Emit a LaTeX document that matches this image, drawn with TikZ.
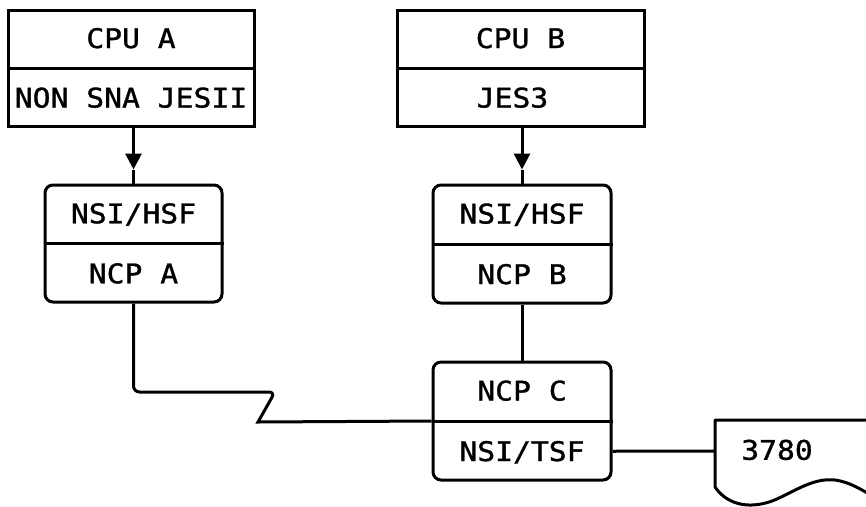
\documentclass[tikz,border=0pt]{standalone}
\usepackage{fontspec}
\newfontfamily\plotter[FakeStretch=1.1,FakeBold=1.2]{DejaVu Sans Mono}
\usetikzlibrary{calc,arrows.meta}
\tikzset{
  frame/.style={draw, line width=3pt, inner sep=0pt},
  rframe/.style={frame, rounded corners=8pt},
  lbl/.style={font=\plotter\fontsize{27}{27}\selectfont, text height=19.5pt, text depth=0pt, inner sep=0pt},
  conn/.style={line width=3pt},
  tipstyle/.style={-{Triangle[width=16pt,length=16pt]}}
}
\begin{document}
\begin{tikzpicture}[x=1pt,y=-1pt]
\useasboundingbox (0,0) rectangle (866,506);
% boxes
\node[frame, minimum width=246pt, minimum height=116pt] (boxA) at (131,68) {};
\node[frame, minimum width=247pt, minimum height=116pt] (boxB) at (520.5,68) {};
\node[rframe, minimum width=177pt, minimum height=117pt] (nodeA) at (133.5,243.5) {};
\node[rframe, minimum width=178pt, minimum height=118pt] (nodeB) at (522,244) {};
\node[rframe, minimum width=178pt, minimum height=118pt] (nodeC) at (522,421) {};
% dividers
\foreach \b in {boxA,boxB,nodeA,nodeB,nodeC}{
  \draw[conn] (\b.west) -- (\b.east);
}
% labels
\node[lbl] (tCPUA) at ($(boxA.center)!0.5!(boxA.north)$) {CPU A};
\node[lbl] (tJESII) at ($(boxA.center)!0.5!(boxA.south)$) {NON SNA JESII};
\node[lbl] (tCPUB) at ($(boxB.center)!0.5!(boxB.north)$) {CPU B};
\node[lbl, xshift=-8pt] (tJES3) at ($(boxB.center)!0.5!(boxB.south)$) {JES3};
\node[lbl] (tHSFA) at ($(nodeA.center)!0.5!(nodeA.north)$) {NSI/HSF};
\node[lbl] (tNCPA) at ($(nodeA.center)!0.5!(nodeA.south)$) {NCP A};
\node[lbl] (tHSFB) at ($(nodeB.center)!0.5!(nodeB.north)$) {NSI/HSF};
\node[lbl] (tNCPB) at ($(nodeB.center)!0.5!(nodeB.south)$) {NCP B};
\node[lbl] (tNCPC) at ($(nodeC.center)!0.5!(nodeC.north)$) {NCP C};
\node[lbl] (tTSF) at ($(nodeC.center)!0.5!(nodeC.south)$) {NSI/TSF};
\node[lbl] (t3780) at (777,450) {3780};
% arrows
\coordinate (tipA) at ($(nodeA.north)+(0,-14)$);
\coordinate (tipB) at ($(nodeB.north)+(0,-14)$);
\draw[conn,tipstyle] (nodeA.north |- boxA.south) -- (tipA);
\draw[conn] (tipA) -- (nodeA.north);
\draw[conn,tipstyle] (nodeB.north |- boxB.south) -- (tipB);
\draw[conn] (tipB) -- (nodeB.north);
% links
\coordinate (z1) at (275,392);
\coordinate (z2) at (258,422);
\draw[conn] (nodeA.south) [rounded corners=6pt] |- (z1) [sharp corners] -- (z2) -- (nodeC.west);
\draw[conn] (nodeB.south) -- (nodeC.north);
\coordinate (doc) at (715,451);
\draw[conn] (tTSF -| nodeC.east) -- (doc);
% document symbol
\begin{scope}
\clip (0,0) rectangle (866,506);
\draw[conn, line join=round] (872,420) -- (715,420) -- (715,487)
  .. controls (728,506) and (752,510) .. (777,499)
  .. controls (800,488) and (815,478) .. (835,480)
  .. controls (850,482) and (862,490) .. (874,497);
\end{scope}
\end{tikzpicture}
\end{document}
